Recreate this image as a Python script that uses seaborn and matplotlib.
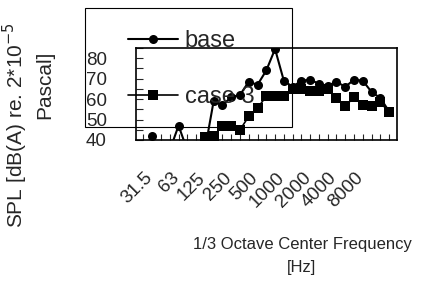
import numpy as np
import pandas as pd
import matplotlib
matplotlib.use("Agg")
import matplotlib.pyplot as plt
import matplotlib.patches as mpatches
import matplotlib.transforms as mtrans
import seaborn as sns

# --- data (1/3 octave bands, SPL in dB(A)) ---
bands = ["25", "31.5", "40", "50", "63", "80", "100", "125", "160", "200",
         "250", "315", "400", "500", "630", "800", "1000", "1250", "1600",
         "2000", "2500", "3150", "4000", "5000", "6300", "8000", "10000",
         "12500", "16000"]
base = [35, 42, 35, 35, 47, 35, 35, 35, 59, 57, 61, 62, 68.5, 67, 74, 84.5,
        69, 66, 69, 69.5, 67.5, 66.5, 68.5, 66, 69.5, 69, 63.5, 60.5, 54]
case3 = [35, 35, 35, 35, 35, 35, 35, 41.5, 42, 47, 47, 45, 51.5, 55.5, 61.5,
         61.5, 61.5, 65, 65, 64, 64, 65, 60.5, 56.5, 61, 57, 56.5, 58.5, 53.5]
tick_labels = ["31.5", "63", "125", "250", "500", "1000", "2000", "4000", "8000"]

sns.set_style("white")
plt.rcParams["font.family"] = ["Liberation Sans", "DejaVu Sans"]

W, H = 428, 288
fig = plt.figure(figsize=(W / 100, H / 100), dpi=100)
ax = fig.add_axes([136 / W, 1 - 140 / H, 261 / W, 92 / H])

df = pd.DataFrame({"band": bands, "idx": np.arange(len(bands)),
                   "base": base, "case 3": case3})

sns.lineplot(data=df, x="idx", y="base", ax=ax, color="black", lw=1.5,
             marker="o", markersize=6.5, markeredgewidth=0, label="base")
sns.lineplot(data=df, x="idx", y="case 3", ax=ax, color="black", lw=1.2,
             marker="s", markersize=6.5, markeredgewidth=0, label="case 3")

ax.set_xlim(-0.85, 28.9)
ax.set_ylim(40, 85)
ax.set_yticks([40, 50, 60, 70, 80])
ax.set_yticks([45, 55, 65, 75, 85], minor=True)
ax.set_yticklabels(["40", "50", "60", "70", "80"], fontsize=13.5)

major_idx = [bands.index(t) for t in tick_labels]
ax.set_xticks(major_idx)
ax.set_xticks(df["idx"], minor=True)
ax.set_xticklabels(tick_labels, fontsize=13.5, rotation=45, ha="right",
                   rotation_mode="anchor")
ax.tick_params(axis="x", which="both", direction="in", length=4, width=0.8,
               pad=21, bottom=True)
ax.tick_params(axis="y", which="both", direction="in", length=5, width=0.8,
               pad=21, left=True)
# nudge the rotated labels a little to the left, as in the original
shift = mtrans.ScaledTranslation(-8 / 100, 0, fig.dpi_scale_trans)
for lab in ax.get_xticklabels():
    lab.set_transform(lab.get_transform() + shift)
ax.set_xlabel("")
ax.set_ylabel("")
for s in ax.spines.values():
    s.set_color("black")
    s.set_linewidth(1.2)

# legend, placed over the upper left like the original
leg = ax.legend(loc="upper left", bbox_to_anchor=(128 / W, 1 - 30 / H),
                bbox_transform=fig.transFigure, frameon=False, fontsize=17,
                handlelength=2.1, handletextpad=0.3, labelspacing=1.45,
                borderpad=0, borderaxespad=0)
fig.add_artist(mpatches.Rectangle((85 / W, 1 - 127 / H), 207 / W, 119 / H,
                                  transform=fig.transFigure, fill=False,
                                  lw=0.8, ec="black"))

# axis titles
fig.text(15 / W, 1 - 125 / H, "SPL [dB(A) re. 2*10$^{-5}$", rotation=90,
         ha="center", va="center", fontsize=15)
fig.text(45 / W, 1 - 85 / H, "Pascal]", rotation=90, ha="center",
         va="center", fontsize=15)
fig.text(302 / W, 1 - 256 / H, "1/3 Octave Center Frequency\n[Hz]",
         ha="center", va="center", fontsize=12, linespacing=1.6)

fig.savefig("out.png", dpi=100)
